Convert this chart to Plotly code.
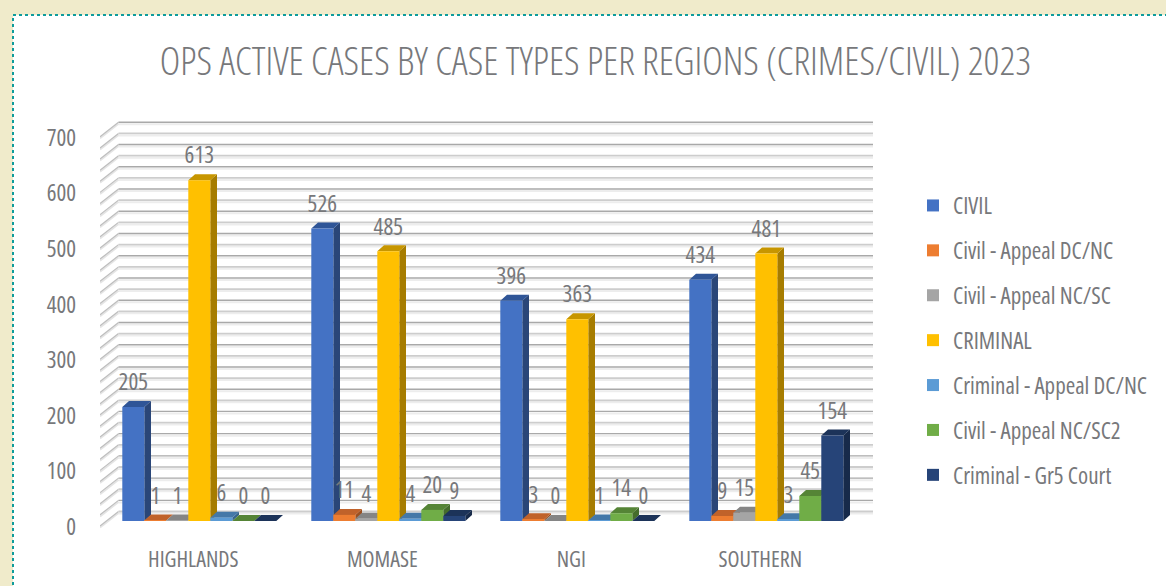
import plotly.graph_objects as go

categories = ["HIGHLANDS", "MOMASE", "NGI", "SOUTHERN"]
series_names = ["CIVIL", "Civil - Appeal DC/NC", "Civil - Appeal NC/SC", "CRIMINAL",
                "Criminal - Appeal DC/NC", "Civil - Appeal NC/SC2", "Criminal - Gr5 Court"]
civil = [205, 526, 396, 434]
civil_dc_nc = [1, 11, 3, 9]
civil_nc_sc = [1, 4, 0, 15]
criminal = [613, 485, 363, 481]
criminal_dc_nc = [6, 4, 1, 3]
civil_nc_sc2 = [0, 20, 14, 45]
criminal_gr5 = [0, 9, 0, 154]
values = [civil, civil_dc_nc, civil_nc_sc, criminal, criminal_dc_nc, civil_nc_sc2, criminal_gr5]
y_ticks = [0, 100, 200, 300, 400, 500, 600, 700]
grid_levels = list(range(0, 720, 20))

front = ["#4472C4", "#ED7D31", "#A5A5A5", "#FFC000", "#5B9BD5", "#70AD47", "#264478"]
top = ["#2F5597", "#C0622A", "#858585", "#C79600", "#4478A8", "#558436", "#1C3359"]
side = ["#2A4678", "#9C5020", "#6E6E6E", "#A67C00", "#37648C", "#456D2C", "#172A4A"]

FONT = "Open Sans"
TEXT = "#77787B"
W, H = 1166, 586
PL, PR, PT, PB = 100, 875, 112, 533     # plot area in pixels
PX_PER_CAT = 189.0
PX_PER_UNIT = 0.556
X0_PX, Y0_PX = 199.3, 521.0             # pixel of category 0 centre / value 0

xr = [(PL - X0_PX) / PX_PER_CAT, (PR - X0_PX) / PX_PER_CAT]
yr = [(Y0_PX - PB) / PX_PER_UNIT, (Y0_PX - PT) / PX_PER_UNIT]
dxp = lambda p: p / PX_PER_CAT
dyp = lambda p: p / PX_PER_UNIT

bargap = 35 / 189
bar_w = (1 - bargap) / len(values)
depth_x, depth_y = dxp(6.7), dyp(6)

fig = go.Figure()


def grid_trace(xs, ys, color, width, shift_px=0.0):
    fig.add_trace(go.Scatter(x=xs, y=[None if v is None else v + dyp(shift_px) for v in ys],
                             mode="lines", line=dict(color=color, width=width),
                             hoverinfo="skip", showlegend=False, zorder=-1))


# wall: back gridlines and the diagonal ticks of the side wall
back_y = dyp(9.5)
front_y = dyp(-5)
xl_front, xl_back, xr_back = dxp(100 - X0_PX), dxp(118.5 - X0_PX), dxp(873 - X0_PX)


def wall_paths(levels):
    gx, gy, dx_, dy_ = [], [], [], []
    for lv in levels:
        gx += [xl_back, xr_back, None]
        gy += [lv + back_y, lv + back_y, None]
        dx_ += [xl_front, xl_back, None]
        dy_ += [lv + front_y, lv + back_y, None]
    return gx, gy, dx_, dy_


dark = [lv for i, lv in enumerate(reversed(grid_levels)) if i % 2 == 0]
light = [lv for i, lv in enumerate(reversed(grid_levels)) if i % 2 == 1]
gx, gy, ax, ay = wall_paths(grid_levels)
grid_trace(gx, gy, "#EDEDED", 2.0, -2.0)
grid_trace(ax, ay, "#E4E4E4", 2.0, -1.5)
grid_trace(ax, ay, "#BDBDBD", 1.2)
gx, gy, _, _ = wall_paths(dark)
grid_trace(gx, gy, "#A9A9A9", 1.4)
gx, gy, _, _ = wall_paths(light)
grid_trace(gx, gy, "#CDCDCD", 1.8)

for j, (name, vals) in enumerate(zip(series_names, values)):
    # depth faces (painted under this bar's neighbour to the right)
    sx, sy, tx, ty = [], [], [], []
    for k, v in enumerate(vals):
        x0 = k - (1 - bargap) / 2 + j * bar_w
        x1 = x0 + bar_w
        sx += [x1, x1 + depth_x, x1 + depth_x, x1, x1, None]
        sy += [0, depth_y, v + depth_y, v, 0, None]
        tx += [x0, x1, x1 + depth_x, x0 + depth_x, x0, None]
        ty += [v, v, v + depth_y, v + depth_y, v, None]
    fig.add_trace(go.Scatter(x=sx, y=sy, mode="lines", fill="toself", fillcolor=side[j],
                             line=dict(width=0), hoverinfo="skip", showlegend=False,
                             legendgroup=name, zorder=2 * j))
    fig.add_trace(go.Scatter(x=tx, y=ty, mode="lines", fill="toself", fillcolor=top[j],
                             line=dict(width=0), hoverinfo="skip", showlegend=False,
                             legendgroup=name, zorder=2 * j))
    fig.add_trace(go.Bar(x=list(range(len(categories))), y=vals, name=name,
                         marker=dict(color=front[j], line=dict(width=0)),
                         legendgroup=name, zorder=2 * j + 1))

# data labels
for j, vals in enumerate(values):
    xs = [k - (1 - bargap) / 2 + (j + 0.5) * bar_w for k in range(len(vals))]
    fig.add_trace(go.Scatter(x=xs, y=[v + dyp(22.5) for v in vals], mode="text",
                             text=[str(v) for v in vals], textposition="middle center",
                             textfont=dict(family=FONT, size=23, color=TEXT),
                             hoverinfo="skip", showlegend=False, zorder=100, cliponaxis=False))

fig.update_layout(
    width=W, height=H, autosize=False,
    margin=dict(l=PL, r=W - PR, t=PT, b=H - PB, pad=0, autoexpand=False),
    paper_bgcolor="#F0EBCB", plot_bgcolor="rgba(0,0,0,0)",
    barmode="group", bargap=bargap, bargroupgap=0,
    title=dict(text="OPS ACTIVE CASES BY CASE TYPES PER REGIONS (CRIMES/CIVIL) 2023",
               x=(160 + 1031) / 2 / W, xanchor="center", y=1 - 61 / H, yanchor="middle",
               font=dict(family=FONT, size=39, color=TEXT, weight=300)),
    font=dict(family=FONT, color=TEXT),
    xaxis=dict(range=xr, tickmode="array", tickvals=list(range(len(categories))),
               ticktext=categories, showgrid=False, zeroline=False, showline=False, ticks="",
               tickfont=dict(family=FONT, size=22, color=TEXT), ticklabelstandoff=11,
               ticklabelshift=-6),
    yaxis=dict(range=yr, tickmode="array", tickvals=y_ticks, showgrid=False, zeroline=False,
               showline=False, ticks="", tickfont=dict(family=FONT, size=23, color=TEXT),
               ticklabelstandoff=23, ticklabelshift=6),
    legend=dict(x=(913 - PL) / (PR - PL), xanchor="left", y=(PB - 184) / (PB - PT),
                yanchor="top", font=dict(family=FONT, size=23, color=TEXT),
                tracegroupgap=12, itemclick=False, itemdoubleclick=False,
                bgcolor="rgba(0,0,0,0)"),
    shapes=[dict(type="rect", xref="paper", yref="paper", layer="below",
                 x0=(13 - PL) / (PR - PL), x1=(W + 20 - PL) / (PR - PL),
                 y0=(PB - H - 20) / (PB - PT), y1=(PB - 15) / (PB - PT),
                 fillcolor="#FFFFFF", line=dict(color="#0E9C9C", width=2, dash="dot"))],
)

POST = (
    "document.body.style.margin='0';document.body.style.overflow='hidden';"
    "var s=document.createElement('style');s.textContent='text{font-stretch:75%!important}';"
    "document.head.appendChild(s);"
    "var gd=document.getElementById('{plot_id}');"
    "if(document.fonts&&document.fonts.ready){document.fonts.ready.then(function(){Plotly.redraw(gd);});}"
    "Plotly.redraw(gd);"
)
fig.write_html("out.html", config={"displayModeBar": False}, post_script=POST)
